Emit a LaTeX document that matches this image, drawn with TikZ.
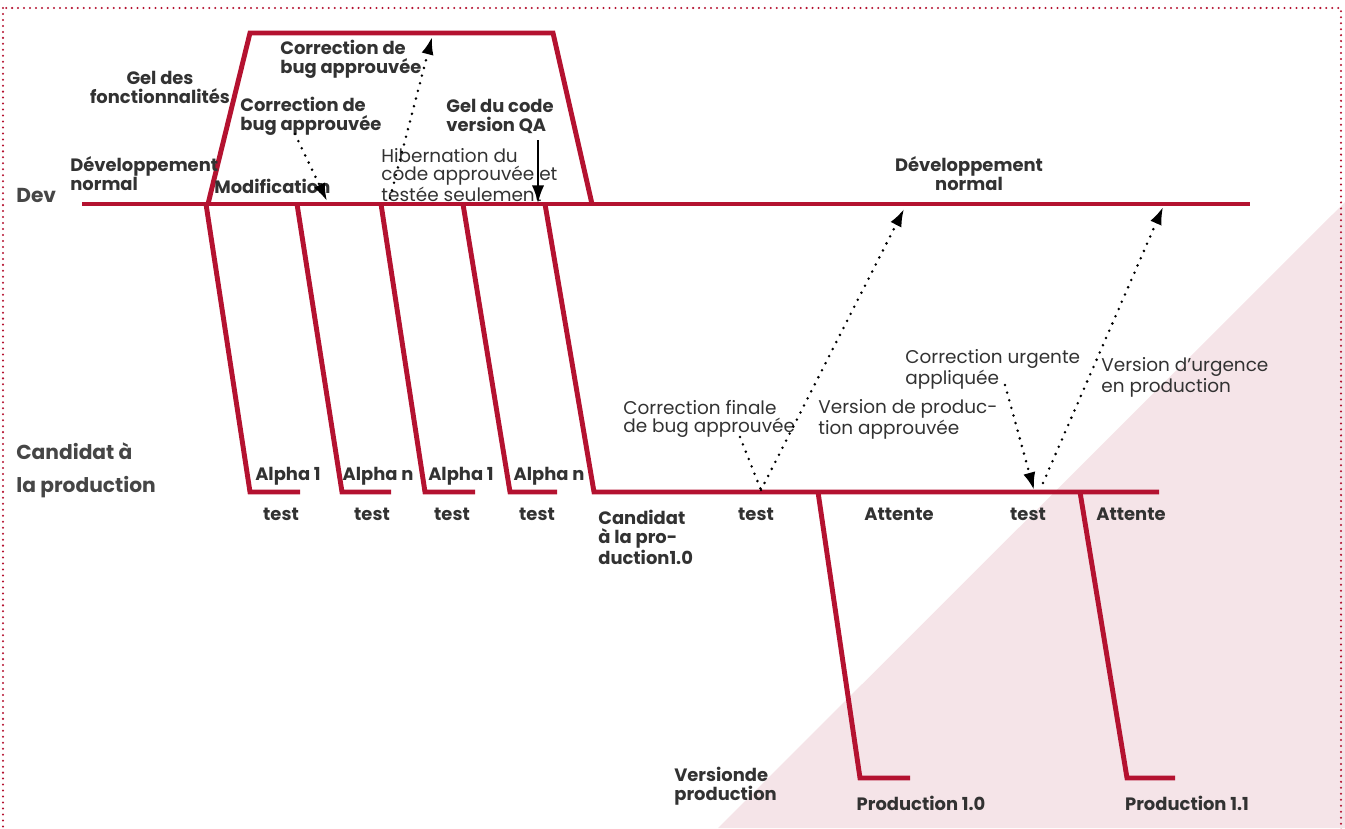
\documentclass[tikz,border=0pt]{standalone}
\usepackage{fontspec}
\setmainfont{Poppins}
\usetikzlibrary{arrows.meta, positioning}
\definecolor{flowred}{RGB}{180,18,48}
\definecolor{labelgray}{RGB}{50,50,50}
\definecolor{zonepink}{RGB}{245,228,232}
\tikzset{
  branch/.style={draw=flowred, line width=2.8pt, line join=miter},
  frame/.style={draw=flowred, line width=1.3pt, line cap=round, dash pattern=on 0pt off 3.4pt},
  lbl/.style={
    text=labelgray, inner sep=0pt, align=left,
    font=\fontsize{10.2}{10.8}\selectfont\bfseries
  },
  note/.style={
    text=labelgray, inner sep=0pt, align=left,
    font=\fontsize{10.5}{10.2}\selectfont
  },
  lane/.style={
    text=labelgray!90, inner sep=0pt, align=left,
    font=\fontsize{11.5}{18.7}\selectfont\bfseries
  },
  hint/.style={
    line width=1.6pt, line cap=round, dash pattern=on 0pt off 4.5pt,
    -{Latex[length=10pt, width=7pt]}
  },
  hintline/.style={line width=1.6pt, line cap=round, dash pattern=on 0pt off 4.5pt},
  push/.style={line width=1.2pt, -{Latex[length=10pt, width=7pt]}}
}

\begin{document}
\begin{tikzpicture}[x=0.02cm, y=-0.02cm]
  \useasboundingbox (0,0) rectangle (1345,828);
  \begin{scope}
    \clip (0,0) rectangle (1345,828);
    \fill[zonepink] (718,828) -- (1345,828) -- (1345,202) -- cycle;
    \draw[frame] (3,8) rectangle (1341,840);
  \end{scope}

  % lanes
  \coordinate (devL) at (82,204);
  \coordinate (devR) at (1250,204);
  \coordinate (qaBL) at (208,204);
  \coordinate (qaTL) at (250,33);
  \coordinate (qaTR) at (553,33);
  \coordinate (qaBR) at (592,204);
  \draw[branch] (devL) -- (devR);
  \draw[branch] (qaBL) -- (qaTL) -- (qaTR) -- (qaBR);

  \coordinate (a1top) at (206,204);
  \coordinate (a1bot) at (250,492);
  \coordinate (a1end) at (300,492);
  \coordinate (a2top) at (297,204);
  \coordinate (a2bot) at (342,492);
  \coordinate (a2end) at (391,492);
  \coordinate (a3top) at (381,204);
  \coordinate (a3bot) at (425,492);
  \coordinate (a3end) at (475,492);
  \coordinate (a4top) at (463,204);
  \coordinate (a4bot) at (510,492);
  \coordinate (a4end) at (557,492);
  \coordinate (rctop) at (545,204);
  \coordinate (rcbot) at (594,492);
  \coordinate (rcend) at (1159,492);
  \draw[branch] (a1top) -- (a1bot) -- (a1end);
  \draw[branch] (a2top) -- (a2bot) -- (a2end);
  \draw[branch] (a3top) -- (a3bot) -- (a3end);
  \draw[branch] (a4top) -- (a4bot) -- (a4end);
  \draw[branch] (rctop) -- (rcbot) -- (rcend);

  \coordinate (p0top) at (818,492);
  \coordinate (p0bot) at (860,778);
  \coordinate (p0end) at (910,778);
  \coordinate (p1top) at (1080,492);
  \coordinate (p1bot) at (1127,778);
  \coordinate (p1end) at (1175,778);
  \draw[branch] (p0top) -- (p0bot) -- (p0end);
  \draw[branch] (p1top) -- (p1bot) -- (p1end);

  % lane names
  \node[lane, anchor=west] (dev) at (16,195) {Dev};
  \node[lane, anchor=west] (rc) at (16,470) {Candidat à\\la production};
  \node[lbl, anchor=west] (prodlane) at (674,786) {Versionde\\production};

  % labels on the dev lane
  \node[lbl, anchor=west] (devnorm) at (70,174) {Développement\\normal};
  \node[lbl, align=center] (freeze) at (160,87) {Gel des\\fonctionnalités};
  \node[lbl, anchor=west] (fixtop) at (280,59) {Correction de\\bug approuvée};
  \node[lbl, anchor=west] (fixlow) at (240,116) {Correction de\\bug approuvée};
  \node[lbl, anchor=west] (modif) at (214,186) {Modification};
  \node[lbl, anchor=west] (qafreeze) at (446,116) {Gel du code\\version QA};
  \node[note, anchor=west] (hibern) at (381,175) {Hibernation du\\code approuvée et\\testée seulement};
  \node[lbl, align=center] (devnorm2) at (969,174) {Développement\\normal};

  % alpha runs
  \node[lbl] (al1) at (288,476) {Alpha 1};
  \node[lbl] (aln) at (378,476) {Alpha n};
  \node[lbl] (al1b) at (461,476) {Alpha 1};
  \node[lbl] (alnb) at (549,476) {Alpha n};
  \node[lbl] (t1) at (281,514) {test};
  \node[lbl] (t2) at (372,514) {test};
  \node[lbl] (t3) at (452,514) {test};
  \node[lbl] (t4) at (537,514) {test};

  % release candidate lane
  \node[lbl, anchor=west] (rc10) at (598,537) {Candidat\\à la pro-\\duction1.0};
  \node[lbl] (t5) at (756,514) {test};
  \node[lbl] (wait1) at (899,514) {Attente};
  \node[lbl] (t6) at (1028,514) {test};
  \node[lbl] (wait2) at (1131,514) {Attente};
  \node[note, anchor=west] (finalfix) at (623,419) {Correction finale\\de bug approuvée};
  \node[note, anchor=west] (prodok) at (818,419) {Version de produc-\\tion approuvée};
  \node[note, anchor=west] (hotfix) at (905,369) {Correction urgente\\appliquée};
  \node[note, anchor=west] (hotrel) at (1101,377) {Version d’urgence\\en production};

  % production lane
  \node[lbl] (prod10) at (921,803) {Production 1.0};
  \node[lbl] (prod11) at (1187,803) {Production 1.1};

  % arrows
  \coordinate (h1s) at (295,134);
  \coordinate (h1e) at (327,201);
  \coordinate (h2s) at (390,198);
  \coordinate (h2e) at (432,37);
  \coordinate (qas) at (538,140);
  \coordinate (qae) at (538,203);
  \coordinate (h3s) at (740,437);
  \coordinate (h3e) at (761,490);
  \coordinate (h4e) at (904,209);
  \coordinate (h5s) at (1005,385);
  \coordinate (h5e) at (1034,490);
  \coordinate (h6s) at (1043,483);
  \coordinate (h6e) at (1163,207);
  \draw[hint] (h1s) -- (h1e);
  \draw[hint] (h2s) -- (h2e);
  \draw[push] (qas) -- (qae);
  \draw[hintline] (h3s) -- (h3e);
  \draw[hint] (h3e) -- (h4e);
  \draw[hint] (h5s) -- (h5e);
  \draw[hint] (h6s) -- (h6e);
\end{tikzpicture}
\end{document}
